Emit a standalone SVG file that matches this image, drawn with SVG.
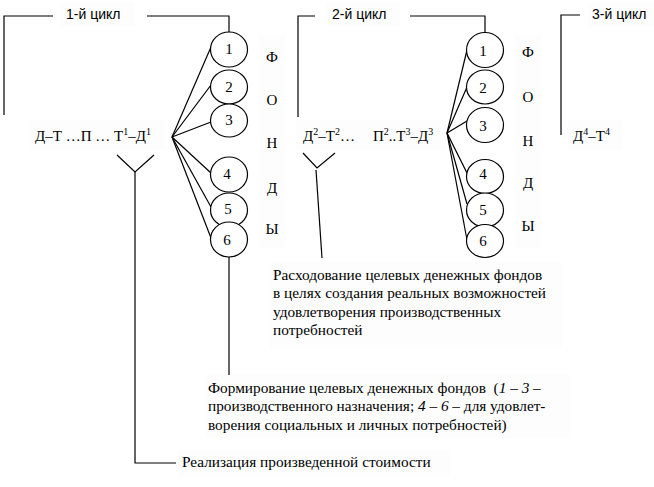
<svg xmlns="http://www.w3.org/2000/svg" width="654" height="487" viewBox="0 0 654 487">
<style>
.ln{stroke:#000;stroke-width:1.2;fill:none}
.c{fill:#fff;stroke:#000;stroke-width:1.2}
.s{font-family:"Liberation Serif","Times New Roman",serif;font-size:15px;fill:#000}
.n{font-family:"Liberation Serif","Times New Roman",serif;font-size:15px;fill:#000;text-anchor:middle}
.h{font-family:"Liberation Sans",Arial,sans-serif;font-size:14px;fill:#000}
.t{font-family:"Liberation Serif","Times New Roman",serif;font-size:15.3px;fill:#000}
.bg{fill:#fdfdfd}
.sup{font-size:10px}
</style>
<rect width="654" height="487" fill="#fff"/>
<g id="backgrounds">
<rect class="bg" x="60" y="2" width="75" height="24"/>
<rect class="bg" x="325" y="2" width="75" height="24"/>
<rect class="bg" x="588" y="2" width="66" height="24"/>
<rect class="bg" x="30" y="120" width="135" height="30"/>
<rect class="bg" x="296" y="120" width="150" height="30"/>
<rect class="bg" x="568" y="120" width="55" height="30"/>
<rect class="bg" x="258" y="36" width="28" height="212"/>
<rect class="bg" x="514" y="36" width="28" height="212"/>
<rect class="bg" x="270" y="262" width="292" height="86"/>
<rect class="bg" x="205" y="374" width="365" height="64"/>
<rect class="bg" x="178" y="450" width="272" height="26"/>
</g>
<g id="connectors">
<polyline class="ln" points="4,115 4,16 53,16"/>
<polyline class="ln" points="147,16 229,16 229,32"/>
<polyline class="ln" points="298,117 298,16 315,16"/>
<polyline class="ln" points="410,16 485,16 485,33"/>
<polyline class="ln" points="561,135 561,15 580,15"/>
<line class="ln" x1="172" y1="137" x2="211" y2="47"/>
<line class="ln" x1="172" y1="137" x2="211" y2="85"/>
<line class="ln" x1="172" y1="137" x2="211" y2="122"/>
<line class="ln" x1="172" y1="137" x2="211" y2="173"/>
<line class="ln" x1="172" y1="137" x2="211" y2="207"/>
<line class="ln" x1="172" y1="137" x2="211" y2="238"/>
<line class="ln" x1="447" y1="133" x2="467" y2="50"/>
<line class="ln" x1="447" y1="133" x2="467" y2="87"/>
<line class="ln" x1="447" y1="133" x2="467" y2="121"/>
<line class="ln" x1="447" y1="133" x2="467" y2="173"/>
<line class="ln" x1="447" y1="133" x2="467" y2="204"/>
<line class="ln" x1="447" y1="133" x2="467" y2="240"/>
<polyline class="ln" points="117,155 135,172 154,155"/>
<polyline class="ln" points="135,172 135,463 176,463"/>
<polyline class="ln" points="303,153 317,168 335,153"/>
<line class="ln" x1="316" y1="170" x2="322" y2="258"/>
<line class="ln" x1="229" y1="257" x2="229" y2="375"/>
</g>
<g id="cycle-labels">
<text class="h" x="66" y="19">1-й цикл</text>
<text class="h" x="332" y="19">2-й цикл</text>
<text class="h" x="592" y="19">3-й цикл</text>
</g>
<g id="formula1"><text class="s" x="35" y="141">Д–Т …П … Т<tspan class="sup" dy="-6">1</tspan><tspan dy="6">–Д</tspan><tspan class="sup" dy="-6">1</tspan></text></g>
<g id="formula2"><text class="s" x="303" y="141">Д<tspan class="sup" dy="-6">2</tspan><tspan dy="6">–Т</tspan><tspan class="sup" dy="-6">2</tspan><tspan dy="6">…</tspan></text></g>
<g id="formula3"><text class="s" x="373" y="141">П<tspan class="sup" dy="-6">2</tspan><tspan dy="6">..Т</tspan><tspan class="sup" dy="-6">3</tspan><tspan dy="6">–Д</tspan><tspan class="sup" dy="-6">3</tspan></text></g>
<g id="formula4"><text class="s" x="573" y="141">Д<tspan class="sup" dy="-6">4</tspan><tspan dy="6">–Т</tspan><tspan class="sup" dy="-6">4</tspan></text></g>
<g id="fund-left-1"><ellipse class="c" cx="229" cy="49.5" rx="18.5" ry="17.5"/><text class="n" x="229" y="54">1</text></g>
<g id="fund-left-2"><ellipse class="c" cx="229" cy="87" rx="18.5" ry="17"/><text class="n" x="229" y="92">2</text></g>
<g id="fund-left-3"><ellipse class="c" cx="229" cy="120.5" rx="18.5" ry="16.5"/><text class="n" x="229" y="125">3</text></g>
<g id="fund-left-4"><ellipse class="c" cx="229" cy="174.5" rx="18.5" ry="17.5"/><text class="n" x="227" y="179">4</text></g>
<g id="fund-left-5"><ellipse class="c" cx="229" cy="210" rx="18.5" ry="17"/><text class="n" x="228" y="214">5</text></g>
<g id="fund-left-6"><ellipse class="c" cx="229" cy="239.5" rx="18.5" ry="17.5"/><text class="n" x="227" y="245">6</text></g>
<g id="fund-right-1"><ellipse class="c" cx="485" cy="50" rx="18.5" ry="17.5"/><text class="n" x="483" y="56">1</text></g>
<g id="fund-right-2"><ellipse class="c" cx="485" cy="87" rx="18.5" ry="17"/><text class="n" x="483" y="93">2</text></g>
<g id="fund-right-3"><ellipse class="c" cx="485" cy="125" rx="18.5" ry="17.5"/><text class="n" x="483" y="131">3</text></g>
<g id="fund-right-4"><ellipse class="c" cx="485" cy="176.5" rx="18.5" ry="17"/><text class="n" x="483" y="179">4</text></g>
<g id="fund-right-5"><ellipse class="c" cx="485" cy="210" rx="18.5" ry="17"/><text class="n" x="483" y="215">5</text></g>
<g id="fund-right-6"><ellipse class="c" cx="485" cy="241" rx="18.5" ry="16.5"/><text class="n" x="483" y="246">6</text></g>
<g id="fondy-left">
<text class="n" x="272" y="62">Ф</text>
<text class="n" x="272" y="105">О</text>
<text class="n" x="272" y="148">Н</text>
<text class="n" x="272" y="193">Д</text>
<text class="n" x="272" y="234">Ы</text>
</g>
<g id="fondy-right">
<text class="n" x="528" y="57">Ф</text>
<text class="n" x="528" y="102">О</text>
<text class="n" x="528" y="146">Н</text>
<text class="n" x="528" y="188">Д</text>
<text class="n" x="528" y="231">Ы</text>
</g>
<g id="note-spending">
<text class="t" x="273" y="280">Расходование целевых денежных фондов</text>
<text class="t" x="273" y="298">в целях создания реальных возможностей</text>
<text class="t" x="273" y="317">удовлетворения производственных</text>
<text class="t" x="273" y="335">потребностей</text>
</g>
<g id="note-forming">
<text class="t" x="208" y="393">Формирование целевых денежных фондов&#160; (<tspan font-style="italic">1 – 3</tspan> –</text>
<text class="t" x="208" y="411">производственного назначения; <tspan font-style="italic">4 – 6</tspan> – для удовлет-</text>
<text class="t" x="208" y="430">ворения социальных и личных потребностей)</text>
</g>
<g id="note-realization">
<text class="t" x="182" y="467">Реализация произведенной стоимости</text>
</g>
</svg>
